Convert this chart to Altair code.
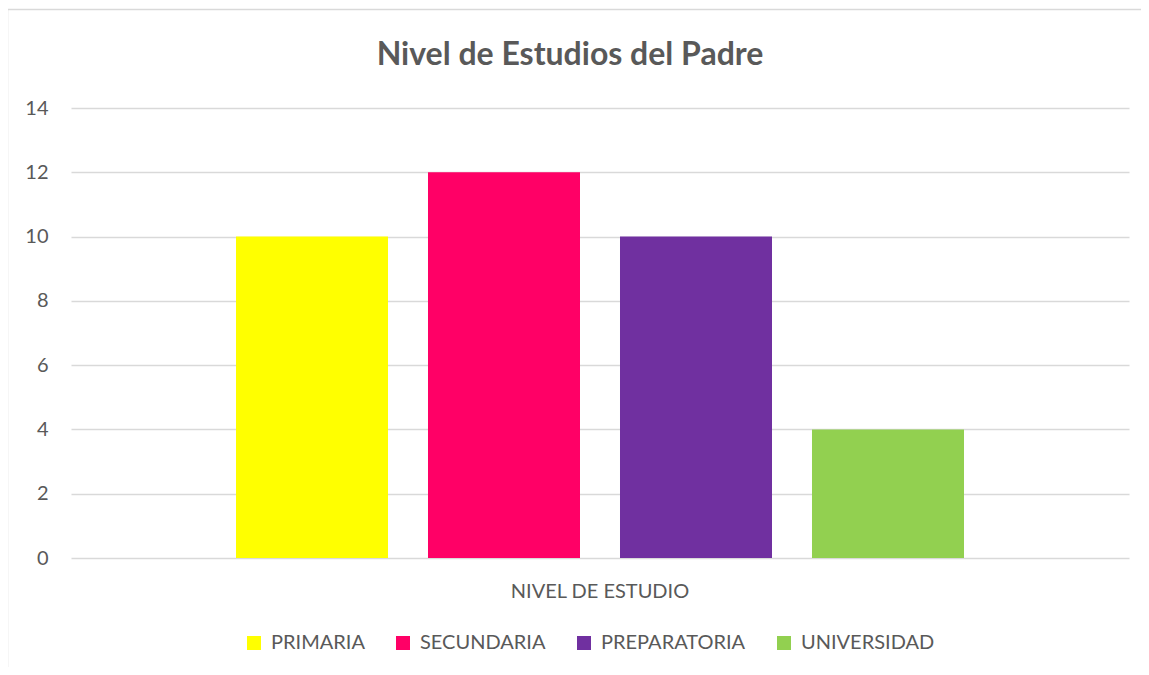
import altair as alt
import pandas as pd

categoria = ["NIVEL DE ESTUDIO"] * 4
series = ["PRIMARIA", "SECUNDARIA", "PREPARATORIA", "UNIVERSIDAD"]
valores = [10, 12, 10, 4]
colores = ["#FFFF00", "#FF0066", "#7030A0", "#92D050"]
y_ticks = [0, 2, 4, 6, 8, 10, 12, 14]

df = pd.DataFrame({"nivel": categoria, "serie": series, "valor": valores})

FONT = "Lato"
GRAY = "#595959"

bars = alt.Chart(df).mark_bar().encode(
    x=alt.X(
        "nivel:N",
        scale=alt.Scale(paddingInner=0, paddingOuter=0),
        axis=alt.Axis(
            title=None, ticks=False, domain=False, grid=False,
            labelFontSize=20, labelColor=GRAY, labelFont=FONT,
            labelPadding=23, labelAngle=0,
        ),
    ),
    xOffset=alt.XOffset(
        "serie:N",
        sort=series,
        scale=alt.Scale(paddingInner=0.2083, paddingOuter=0.8594),
    ),
    y=alt.Y(
        "valor:Q",
        scale=alt.Scale(domain=[0, 14], nice=False),
        axis=alt.Axis(
            title=None, values=y_ticks, ticks=False, domain=False,
            labelFontSize=20, labelColor=GRAY, labelFont=FONT,
            labelPadding=23, gridColor="#d9d9d9", gridWidth=1.3,
        ),
    ),
    color=alt.Color(
        "serie:N",
        sort=series,
        scale=alt.Scale(domain=series, range=colores),
        legend=alt.Legend(
            title=None, orient="none", legendX=173, legendY=525,
            direction="horizontal", columns=4, symbolType="square",
            symbolSize=196, symbolStrokeWidth=0, labelFontSize=20,
            labelColor=GRAY, labelFont=FONT, columnPadding=28,
            labelOffset=7, padding=0,
        ),
    ),
)

border_df = pd.DataFrame({"b": [0]})
border = alt.Chart(border_df).mark_rect(
    fill="white", fillOpacity=0, stroke="#d9d9d9", strokeWidth=1.5
).encode(
    x=alt.value(-63.5), x2=alt.value(1300),
    y=alt.value(-98.5), y2=alt.value(800),
)

chart = alt.layer(border, bars).properties(
    width=1058,
    height=450,
    title=alt.TitleParams(
        "Nivel de Estudios del Padre", font=FONT, fontSize=32,
        fontWeight="bold", color=GRAY, anchor="middle", frame="group",
        dx=-30, dy=63, offset=0,
    ),
    autosize=alt.AutoSizeParams(type="none"),
    padding={"left": 63, "top": 100, "right": 12, "bottom": 109},
).configure_view(stroke=None)

chart.save("out.html", embed_options={"renderer": "svg", "actions": False})
